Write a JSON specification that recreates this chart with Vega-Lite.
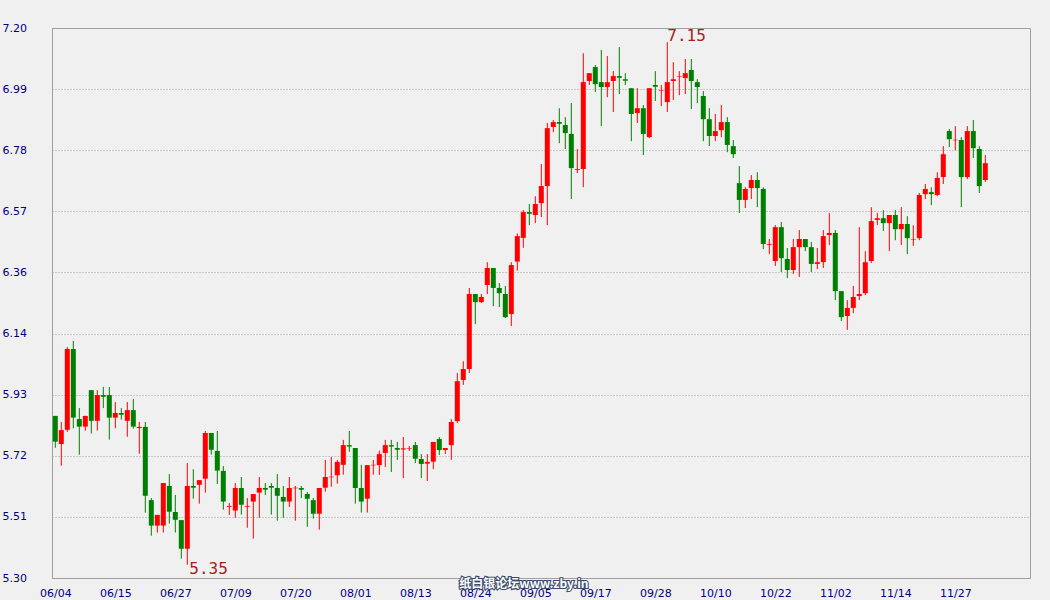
{
  "$schema": "https://vega.github.io/schema/vega-lite/v6.json",
  "width": 978,
  "height": 550,
  "autosize": {"type": "none"},
  "padding": {"left": 52, "top": 28, "right": 20, "bottom": 22},
  "background": "#f0f0f0",
  "config": {
    "view": {"stroke": "#a0a0a0", "strokeWidth": 1},
    "axis": {"labelFont": "DejaVu Sans", "labelFontSize": 11, "labelColor": "#000080", "domainColor": "#a0a0a0", "ticks": false, "tickSize": 0, "labelFlush": false, "labelOverlap": false, "title": null}
  },
  "datasets": {
    "k": [
      {"i":0,"o":5.860,"h":5.860,"l":5.750,"c":5.771},
      {"i":1,"o":5.763,"h":5.839,"l":5.688,"c":5.811},
      {"i":2,"o":5.812,"h":6.098,"l":5.805,"c":6.091},
      {"i":3,"o":6.091,"h":6.119,"l":5.817,"c":5.854},
      {"i":4,"o":5.849,"h":5.887,"l":5.726,"c":5.823},
      {"i":5,"o":5.823,"h":5.860,"l":5.809,"c":5.860},
      {"i":6,"o":5.949,"h":5.949,"l":5.799,"c":5.843},
      {"i":7,"o":5.843,"h":5.949,"l":5.809,"c":5.932},
      {"i":8,"o":5.932,"h":5.960,"l":5.887,"c":5.926},
      {"i":9,"o":5.932,"h":5.960,"l":5.778,"c":5.854},
      {"i":10,"o":5.854,"h":5.908,"l":5.817,"c":5.870},
      {"i":11,"o":5.870,"h":5.887,"l":5.847,"c":5.864},
      {"i":12,"o":5.843,"h":5.908,"l":5.788,"c":5.880},
      {"i":13,"o":5.880,"h":5.918,"l":5.816,"c":5.823},
      {"i":14,"o":5.818,"h":5.839,"l":5.729,"c":5.822},
      {"i":15,"o":5.822,"h":5.839,"l":5.526,"c":5.584},
      {"i":16,"o":5.569,"h":5.576,"l":5.446,"c":5.481},
      {"i":17,"o":5.481,"h":5.518,"l":5.457,"c":5.518},
      {"i":18,"o":5.481,"h":5.628,"l":5.457,"c":5.628},
      {"i":19,"o":5.618,"h":5.659,"l":5.488,"c":5.529},
      {"i":20,"o":5.528,"h":5.587,"l":5.457,"c":5.501},
      {"i":21,"o":5.500,"h":5.500,"l":5.367,"c":5.401},
      {"i":22,"o":5.401,"h":5.697,"l":5.346,"c":5.618},
      {"i":23,"o":5.618,"h":5.676,"l":5.574,"c":5.612},
      {"i":24,"o":5.622,"h":5.638,"l":5.557,"c":5.638},
      {"i":25,"o":5.643,"h":5.808,"l":5.595,"c":5.801},
      {"i":26,"o":5.801,"h":5.801,"l":5.726,"c":5.743},
      {"i":27,"o":5.739,"h":5.808,"l":5.625,"c":5.671},
      {"i":28,"o":5.670,"h":5.687,"l":5.536,"c":5.564},
      {"i":29,"o":5.546,"h":5.559,"l":5.518,"c":5.549},
      {"i":30,"o":5.533,"h":5.628,"l":5.508,"c":5.611},
      {"i":31,"o":5.611,"h":5.649,"l":5.519,"c":5.553},
      {"i":32,"o":5.546,"h":5.576,"l":5.474,"c":5.549},
      {"i":33,"o":5.564,"h":5.590,"l":5.436,"c":5.590},
      {"i":34,"o":5.595,"h":5.649,"l":5.508,"c":5.611},
      {"i":35,"o":5.611,"h":5.628,"l":5.587,"c":5.605},
      {"i":36,"o":5.618,"h":5.628,"l":5.519,"c":5.612},
      {"i":37,"o":5.611,"h":5.659,"l":5.498,"c":5.584},
      {"i":38,"o":5.580,"h":5.618,"l":5.508,"c":5.564},
      {"i":39,"o":5.564,"h":5.649,"l":5.545,"c":5.611},
      {"i":40,"o":5.610,"h":5.618,"l":5.498,"c":5.612},
      {"i":41,"o":5.611,"h":5.618,"l":5.576,"c":5.605},
      {"i":42,"o":5.590,"h":5.597,"l":5.477,"c":5.574},
      {"i":43,"o":5.569,"h":5.576,"l":5.505,"c":5.522},
      {"i":44,"o":5.522,"h":5.611,"l":5.467,"c":5.611},
      {"i":45,"o":5.612,"h":5.708,"l":5.598,"c":5.649},
      {"i":46,"o":5.648,"h":5.718,"l":5.615,"c":5.650},
      {"i":47,"o":5.655,"h":5.708,"l":5.626,"c":5.701},
      {"i":48,"o":5.691,"h":5.777,"l":5.657,"c":5.759},
      {"i":49,"o":5.759,"h":5.808,"l":5.736,"c":5.754},
      {"i":50,"o":5.749,"h":5.749,"l":5.557,"c":5.611},
      {"i":51,"o":5.611,"h":5.691,"l":5.526,"c":5.564},
      {"i":52,"o":5.574,"h":5.690,"l":5.526,"c":5.690},
      {"i":53,"o":5.689,"h":5.708,"l":5.657,"c":5.691},
      {"i":54,"o":5.690,"h":5.740,"l":5.656,"c":5.728},
      {"i":55,"o":5.732,"h":5.777,"l":5.683,"c":5.759},
      {"i":56,"o":5.759,"h":5.777,"l":5.666,"c":5.754},
      {"i":57,"o":5.749,"h":5.770,"l":5.708,"c":5.743},
      {"i":58,"o":5.744,"h":5.787,"l":5.645,"c":5.748},
      {"i":59,"o":5.746,"h":5.756,"l":5.739,"c":5.748},
      {"i":60,"o":5.759,"h":5.770,"l":5.697,"c":5.712},
      {"i":61,"o":5.711,"h":5.728,"l":5.645,"c":5.694},
      {"i":62,"o":5.695,"h":5.728,"l":5.635,"c":5.701},
      {"i":63,"o":5.702,"h":5.770,"l":5.676,"c":5.770},
      {"i":64,"o":5.780,"h":5.787,"l":5.725,"c":5.742},
      {"i":65,"o":5.742,"h":5.749,"l":5.728,"c":5.749},
      {"i":66,"o":5.759,"h":5.849,"l":5.708,"c":5.839},
      {"i":67,"o":5.842,"h":6.008,"l":5.835,"c":5.980},
      {"i":68,"o":5.984,"h":6.049,"l":5.967,"c":6.022},
      {"i":69,"o":6.022,"h":6.302,"l":6.008,"c":6.281},
      {"i":70,"o":6.281,"h":6.281,"l":6.177,"c":6.253},
      {"i":71,"o":6.253,"h":6.281,"l":6.250,"c":6.271},
      {"i":72,"o":6.312,"h":6.391,"l":6.281,"c":6.371},
      {"i":73,"o":6.371,"h":6.371,"l":6.239,"c":6.302},
      {"i":74,"o":6.302,"h":6.319,"l":6.236,"c":6.284},
      {"i":75,"o":6.281,"h":6.309,"l":6.198,"c":6.201},
      {"i":76,"o":6.212,"h":6.391,"l":6.170,"c":6.381},
      {"i":77,"o":6.393,"h":6.490,"l":6.362,"c":6.481},
      {"i":78,"o":6.475,"h":6.571,"l":6.441,"c":6.564},
      {"i":79,"o":6.564,"h":6.592,"l":6.519,"c":6.558},
      {"i":80,"o":6.554,"h":6.619,"l":6.526,"c":6.592},
      {"i":81,"o":6.595,"h":6.730,"l":6.547,"c":6.654},
      {"i":82,"o":6.654,"h":6.872,"l":6.519,"c":6.854},
      {"i":83,"o":6.858,"h":6.882,"l":6.840,"c":6.875},
      {"i":84,"o":6.875,"h":6.923,"l":6.802,"c":6.869},
      {"i":85,"o":6.865,"h":6.892,"l":6.782,"c":6.837},
      {"i":86,"o":6.834,"h":6.941,"l":6.609,"c":6.716},
      {"i":87,"o":6.710,"h":6.782,"l":6.699,"c":6.713},
      {"i":88,"o":6.713,"h":7.113,"l":6.650,"c":7.013},
      {"i":89,"o":7.017,"h":7.044,"l":7.003,"c":7.044},
      {"i":90,"o":7.065,"h":7.072,"l":6.979,"c":7.006},
      {"i":91,"o":7.013,"h":7.124,"l":6.861,"c":6.996},
      {"i":92,"o":6.996,"h":7.103,"l":6.961,"c":7.013},
      {"i":93,"o":7.017,"h":7.051,"l":6.910,"c":7.034},
      {"i":94,"o":7.034,"h":7.134,"l":6.972,"c":7.028},
      {"i":95,"o":7.023,"h":7.044,"l":7.003,"c":7.018},
      {"i":96,"o":6.992,"h":6.992,"l":6.809,"c":6.903},
      {"i":97,"o":6.906,"h":6.992,"l":6.872,"c":6.923},
      {"i":98,"o":6.923,"h":6.934,"l":6.761,"c":6.834},
      {"i":99,"o":6.823,"h":6.992,"l":6.820,"c":6.992},
      {"i":100,"o":7.003,"h":7.051,"l":6.948,"c":6.997},
      {"i":101,"o":6.983,"h":7.003,"l":6.930,"c":6.985},
      {"i":102,"o":6.944,"h":7.151,"l":6.910,"c":7.013},
      {"i":103,"o":7.017,"h":7.082,"l":6.951,"c":7.023},
      {"i":104,"o":7.032,"h":7.051,"l":6.968,"c":7.034},
      {"i":105,"o":7.027,"h":7.093,"l":6.972,"c":7.044},
      {"i":106,"o":7.055,"h":7.093,"l":6.920,"c":7.017},
      {"i":107,"o":7.013,"h":7.023,"l":6.941,"c":6.996},
      {"i":108,"o":6.965,"h":6.982,"l":6.809,"c":6.885},
      {"i":109,"o":6.885,"h":6.923,"l":6.792,"c":6.827},
      {"i":110,"o":6.827,"h":6.903,"l":6.809,"c":6.844},
      {"i":111,"o":6.847,"h":6.934,"l":6.823,"c":6.875},
      {"i":112,"o":6.875,"h":6.892,"l":6.771,"c":6.796},
      {"i":113,"o":6.792,"h":6.813,"l":6.751,"c":6.764},
      {"i":114,"o":6.664,"h":6.723,"l":6.561,"c":6.606},
      {"i":115,"o":6.606,"h":6.650,"l":6.578,"c":6.644},
      {"i":116,"o":6.647,"h":6.692,"l":6.609,"c":6.675},
      {"i":117,"o":6.675,"h":6.702,"l":6.581,"c":6.647},
      {"i":118,"o":6.644,"h":6.650,"l":6.436,"c":6.454},
      {"i":119,"o":6.451,"h":6.471,"l":6.419,"c":6.454},
      {"i":120,"o":6.395,"h":6.519,"l":6.378,"c":6.512},
      {"i":121,"o":6.512,"h":6.530,"l":6.357,"c":6.405},
      {"i":122,"o":6.402,"h":6.440,"l":6.336,"c":6.364},
      {"i":123,"o":6.364,"h":6.471,"l":6.350,"c":6.443},
      {"i":124,"o":6.443,"h":6.502,"l":6.340,"c":6.471},
      {"i":125,"o":6.471,"h":6.471,"l":6.429,"c":6.443},
      {"i":126,"o":6.443,"h":6.461,"l":6.357,"c":6.385},
      {"i":127,"o":6.385,"h":6.440,"l":6.367,"c":6.391},
      {"i":128,"o":6.391,"h":6.502,"l":6.371,"c":6.481},
      {"i":129,"o":6.485,"h":6.561,"l":6.450,"c":6.492},
      {"i":130,"o":6.492,"h":6.502,"l":6.260,"c":6.291},
      {"i":131,"o":6.291,"h":6.291,"l":6.188,"c":6.201},
      {"i":132,"o":6.205,"h":6.260,"l":6.157,"c":6.233},
      {"i":133,"o":6.233,"h":6.309,"l":6.215,"c":6.271},
      {"i":134,"o":6.274,"h":6.512,"l":6.260,"c":6.281},
      {"i":135,"o":6.284,"h":6.429,"l":6.277,"c":6.391},
      {"i":136,"o":6.395,"h":6.581,"l":6.388,"c":6.533},
      {"i":137,"o":6.537,"h":6.561,"l":6.519,"c":6.543},
      {"i":138,"o":6.543,"h":6.571,"l":6.499,"c":6.526},
      {"i":139,"o":6.526,"h":6.554,"l":6.429,"c":6.554},
      {"i":140,"o":6.554,"h":6.571,"l":6.467,"c":6.505},
      {"i":141,"o":6.505,"h":6.581,"l":6.450,"c":6.523},
      {"i":142,"o":6.523,"h":6.550,"l":6.419,"c":6.474},
      {"i":143,"o":6.469,"h":6.519,"l":6.447,"c":6.471},
      {"i":144,"o":6.474,"h":6.630,"l":6.467,"c":6.623},
      {"i":145,"o":6.626,"h":6.661,"l":6.609,"c":6.644},
      {"i":146,"o":6.633,"h":6.650,"l":6.588,"c":6.626},
      {"i":147,"o":6.623,"h":6.702,"l":6.619,"c":6.682},
      {"i":148,"o":6.685,"h":6.792,"l":6.661,"c":6.764},
      {"i":149,"o":6.844,"h":6.851,"l":6.789,"c":6.816},
      {"i":150,"o":6.812,"h":6.861,"l":6.778,"c":6.814},
      {"i":151,"o":6.813,"h":6.823,"l":6.581,"c":6.685},
      {"i":152,"o":6.685,"h":6.861,"l":6.678,"c":6.844},
      {"i":153,"o":6.844,"h":6.882,"l":6.751,"c":6.785},
      {"i":154,"o":6.782,"h":6.792,"l":6.630,"c":6.654},
      {"i":155,"o":6.675,"h":6.761,"l":6.668,"c":6.733}
    ]
  },
  "layer": [
    {
      "data": {"name": "k"},
      "mark": {"type": "rule", "strokeWidth": 1},
      "encoding": {
        "x": {
          "field": "i", "type": "quantitative",
          "scale": {"domain": [-0.55, 162.45], "nice": false, "zero": false, "padding": 0},
          "axis": {
            "values": [0,10,20,30,40,50,60,70,80,90,100,110,120,130,140,150],
            "labelExpr": "['06/04','06/15','06/27','07/09','07/20','08/01','08/13','08/24','09/05','09/17','09/28','10/10','10/22','11/02','11/14','11/27'][round(datum.value/10)]",
            "labelPadding": 9, "grid": false, "labelBaseline": "top"
          }
        },
        "y": {
          "field": "l", "type": "quantitative",
          "scale": {"domain": [5.3, 7.2], "nice": false, "zero": false, "padding": 0},
          "axis": {
            "values": [5.3, 5.51111, 5.72222, 5.93333, 6.14444, 6.35556, 6.56667, 6.77778, 6.98889, 7.2],
            "format": ".2f", "labelAlign": "left", "labelPadding": 50, "labelBaseline": "middle",
            "grid": true, "gridColor": "#a0a0a0", "gridDash": [1, 2], "gridWidth": 1
          }
        },
        "y2": {"field": "h"},
        "color": {"condition": {"test": "datum.c > datum.o", "value": "#ff0000"}, "value": "#008000"}
      }
    },
    {
      "data": {"name": "k"},
      "mark": {"type": "bar", "size": 5},
      "encoding": {
        "x": {"field": "i", "type": "quantitative"},
        "y": {"field": "o", "type": "quantitative"},
        "y2": {"field": "c"},
        "color": {"condition": {"test": "datum.c > datum.o", "value": "#ff0000"}, "value": "#008000"}
      }
    },
    {
      "data": {"values": [{"i": 102, "v": 7.151, "t": "7.15"}]},
      "mark": {"type": "text", "align": "left", "baseline": "alphabetic", "dx": 0, "dy": -1.5, "font": "DejaVu Sans Mono", "fontSize": 16, "fill": "#a82020"},
      "encoding": {
        "x": {"field": "i", "type": "quantitative"},
        "y": {"field": "v", "type": "quantitative"},
        "text": {"field": "t"}
      }
    },
    {
      "data": {"values": [{"i": 22, "v": 5.346, "t": "5.35"}]},
      "mark": {"type": "text", "align": "left", "baseline": "alphabetic", "dx": 2, "dy": 9.5, "font": "DejaVu Sans Mono", "fontSize": 16, "fill": "#a82020"},
      "encoding": {
        "x": {"field": "i", "type": "quantitative"},
        "y": {"field": "v", "type": "quantitative"},
        "text": {"field": "t"}
      }
    },
    {
      "data": {"values": [{"i": 78.1, "v": 5.279, "t": "纸白银论坛www.zby.in"}]},
      "mark": {"type": "text", "align": "center", "baseline": "middle", "font": "Noto Sans CJK SC", "fontSize": 12, "fontWeight": "bold", "fill": "#3a4a6a", "stroke": "#3a4a6a", "strokeWidth": 2.2},
      "encoding": {
        "x": {"field": "i", "type": "quantitative"},
        "y": {"field": "v", "type": "quantitative"},
        "text": {"field": "t"}
      }
    },
    {
      "data": {"values": [{"i": 78.1, "v": 5.279, "t": "纸白银论坛www.zby.in"}]},
      "mark": {"type": "text", "align": "center", "baseline": "middle", "font": "Noto Sans CJK SC", "fontSize": 12, "fontWeight": "bold", "fill": "#ffffff"},
      "encoding": {
        "x": {"field": "i", "type": "quantitative"},
        "y": {"field": "v", "type": "quantitative"},
        "text": {"field": "t"}
      }
    }
  ]
}
